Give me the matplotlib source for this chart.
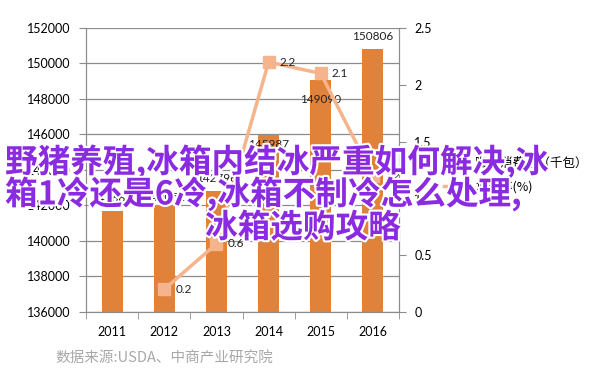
import matplotlib
matplotlib.use("Agg")
import matplotlib.pyplot as plt
import matplotlib.patheffects as pe
from matplotlib.patches import Patch
from matplotlib.lines import Line2D

years = ["2011", "2012", "2013", "2014", "2015", "2016"]
consumption = [141665, 142052, 142796, 145987, 149090, 150806]
growth = [None, 0.2, 0.6, 2.2, 2.1, 1.2]
left_ticks = [136000, 138000, 140000, 142000, 144000, 146000, 148000, 150000, 152000]
right_ticks = [0, 0.5, 1, 1.5, 2, 2.5]
legend_labels = ["咖啡消费量（千包）", "增长率(%)"]
source = "数据来源:USDA、中商产业研究院"
overlay_lines = ["野猪养殖,冰箱内结冰严重如何解决,冰", "箱1冷还是6冷,冰箱不制冷怎么处理,", "冰箱选购攻略"]

# label offsets in points (style only)
bar_label_dy = [9, 5, 9, -7, -14, 9]

plt.rcParams['font.family'] = ['Lato', 'Noto Sans CJK SC', 'DejaVu Sans']

fig = plt.figure(figsize=(6.02, 3.84), dpi=100)
ax = fig.add_axes([86/602, 1-312/384, (399-86)/602, (312-28)/384])
bar_color = '#E0823A'
line_color = '#F5B48C'
grid_color = '#8c8c8c'

x = list(range(len(years)))
ax.bar(x, consumption, width=0.4, color=bar_color, zorder=2)
ax.set_ylim(136000, 152000)
ax.set_xlim(-0.5, 5.5)
ax.set_yticks(left_ticks)
ax.set_yticklabels([str(v) for v in left_ticks], fontsize=9)
ax.set_xticks(x)
ax.set_xticklabels(years, fontsize=9)
ax.tick_params(axis='x', length=0, pad=10)
ax.set_xticks([i + 0.5 for i in range(-1, 6)], minor=True)
ax.tick_params(axis='x', which='minor', length=5, color=grid_color, direction='out')
ax.tick_params(axis='y', length=5, color=grid_color, pad=6)
ax.yaxis.grid(True, color=grid_color, lw=0.9, zorder=0)
for s in ['left', 'bottom', 'right', 'top']:
    ax.spines[s].set_color(grid_color)
ax.spines['top'].set_visible(False)

for xi, v, dy in zip(x, consumption, bar_label_dy):
    ax.annotate(str(v), (xi, v), xytext=(0, dy), textcoords='offset points',
                ha='center', va='center', fontsize=8.5, color='#222222', zorder=5)

ax2 = ax.twinx()
ax2.set_ylim(0, 2.5)
ax2.set_yticks(right_ticks)
ax2.set_yticklabels([f"{v:g}" for v in right_ticks], fontsize=9)
ax2.tick_params(axis='y', length=5, color=grid_color, pad=6)
for s in ['left', 'bottom', 'right', 'top']:
    ax2.spines[s].set_color(grid_color)
ax2.spines['top'].set_visible(False)
gx = [xi for xi, g in zip(x, growth) if g is not None]
gy = [g for g in growth if g is not None]
ax2.plot(gx, gy, color=line_color, lw=2.5, marker='s', markersize=8, zorder=3)
for xi, g in zip(gx, gy):
    ax2.annotate(f"{g:g}", (xi, g), xytext=(8, 0), textcoords='offset points',
                 ha='left', va='center', fontsize=8.5, color='#222222')

handles = [Patch(facecolor=bar_color, edgecolor='none'),
           Line2D([], [], color=line_color, lw=2.5, marker='s', markersize=7)]
fig.legend(handles, legend_labels, loc='upper left', bbox_to_anchor=(444/602, 1-157/384),
           frameon=False, handlelength=2, handletextpad=0.5, labelspacing=0.8,
           borderpad=0, borderaxespad=0,
           prop={'family': ['Noto Sans CJK SC', 'DejaVu Sans'], 'size': 9})

fig.text(55/602, 1-358/384, source, fontsize=10.5, color='#a8a8a8', va='center', ha='left',
         family=['Noto Sans CJK SC', 'DejaVu Sans'])

eff = [pe.withStroke(linewidth=3, foreground='white')]
ys = [162, 194, 228]
xs = [5, 5, 205]
for t, yy, xx in zip(overlay_lines, ys, xs):
    fig.text(xx/602, 1-yy/384, t, fontsize=23.5, color='#8A2BE2', fontweight='bold',
             va='center', ha='left', family=['Noto Sans CJK SC', 'DejaVu Sans'],
             path_effects=eff, zorder=10)

fig.savefig('out.png', dpi=100)
